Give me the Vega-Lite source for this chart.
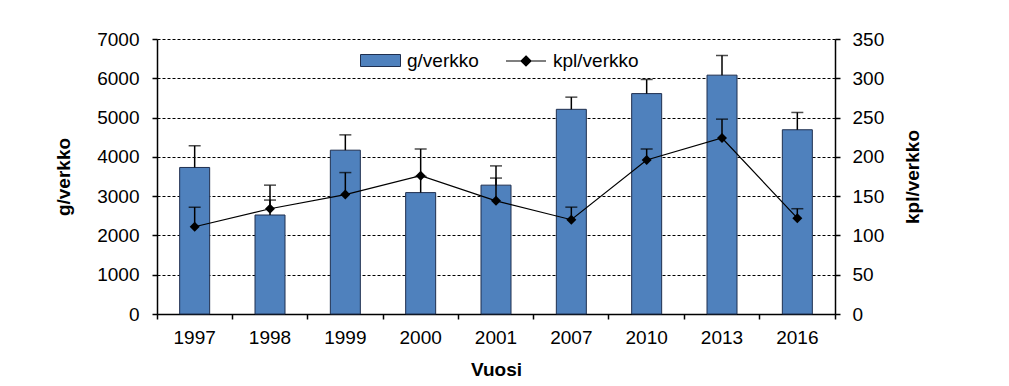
{
  "$schema": "https://vega.github.io/schema/vega-lite/v6.json",
  "width": 678,
  "height": 275,
  "autosize": {"type": "none"},
  "padding": {"left": 157, "top": 39, "right": 174, "bottom": 72},
  "background": "white",
  "config": {
    "view": {"stroke": null},
    "font": "Liberation Sans",
    "axis": {
      "labelFont": "Liberation Sans",
      "titleFont": "Liberation Sans",
      "labelFontSize": 19,
      "titleFontSize": 19,
      "titleFontWeight": "bold",
      "labelColor": "#000",
      "titleColor": "#000",
      "domainColor": "#000",
      "tickColor": "#000",
      "domainWidth": 1.5,
      "tickWidth": 1.5,
      "tickSize": 5
    },
    "axisLeft": {
      "values": [0, 1000, 2000, 3000, 4000, 5000, 6000, 7000],
      "format": "d", "grid": true, "gridDash": [3, 2], "gridColor": "#000", "gridWidth": 1, "gridOpacity": 1,
      "labelPadding": 13, "titleX": -94, "titleY": 137.5, "titleAngle": 270,
      "titleBaseline": "middle", "titleAlign": "center", "labelOverlap": false
    },
    "axisRight": {
      "values": [0, 50, 100, 150, 200, 250, 300, 350],
      "format": "d", "grid": false, "labelPadding": 12,
      "titleX": 77, "titleY": 137.5, "titleAngle": 270,
      "titleBaseline": "middle", "titleAlign": "center", "labelOverlap": false
    },
    "legend": {
      "labelFont": "Liberation Sans",
      "labelFontSize": 19,
      "labelColor": "#000",
      "padding": 0,
      "orient": "none",
      "labelOffset": 6
    }
  },
  "data": {
    "values": [
      {"year": "1997", "g": 3730, "gErr": 4280, "kpl": 111, "kplErr": 136},
      {"year": "1998", "g": 2520, "gErr": 3280, "kpl": 134, "kplErr": 145},
      {"year": "1999", "g": 4170, "gErr": 4560, "kpl": 152, "kplErr": 180},
      {"year": "2000", "g": 3090, "gErr": 3500, "kpl": 176, "kplErr": 210},
      {"year": "2001", "g": 3280, "gErr": 3770, "kpl": 144, "kplErr": 173},
      {"year": "2007", "g": 5210, "gErr": 5520, "kpl": 120, "kplErr": 136},
      {"year": "2010", "g": 5610, "gErr": 5970, "kpl": 196, "kplErr": 210},
      {"year": "2013", "g": 6080, "gErr": 6580, "kpl": 224, "kplErr": 248},
      {"year": "2016", "g": 4690, "gErr": 5130, "kpl": 122, "kplErr": 134}
    ]
  },
  "layer": [
    {
      "layer": [
        {
          "mark": {"type": "bar", "size": 30, "stroke": "#1F2F4F", "strokeWidth": 1},
          "encoding": {
            "x": {
              "field": "year", "type": "nominal", "sort": null,
              "scale": {"paddingInner": 0, "paddingOuter": 0},
              "axis": {
                "title": "Vuosi", "labelAngle": 0, "bandPosition": 1, "tickExtra": true,
                "labelPadding": 9, "titleY": 55, "titleBaseline": "middle", "grid": false
              }
            },
            "y": {
              "field": "g", "type": "quantitative",
              "scale": {"domain": [0, 7000]},
              "title": "g/verkko",
              "axis": {"orient": "left", "tickCount": 7}
            },
            "fill": {
              "datum": "g/verkko", "type": "nominal",
              "scale": {"range": ["#4F81BD"]},
              "legend": {
                "title": null, "legendX": 203, "legendY": 1,
                "symbolType": "M-1,-0.3H1V0.3H-1Z", "symbolSize": 1600,
                "symbolStrokeColor": "#1F2F4F", "symbolStrokeWidth": 1
              }
            }
          }
        },
        {
          "mark": {"type": "rule", "color": "#000", "strokeWidth": 1.5},
          "encoding": {
            "x": {"field": "year", "type": "nominal", "sort": null},
            "y": {"field": "g", "type": "quantitative", "title": "g/verkko", "axis": {"orient": "left", "tickCount": 7}},
            "y2": {"field": "gErr"}
          }
        },
        {
          "mark": {"type": "tick", "color": "#000", "size": 12, "thickness": 1.5},
          "encoding": {
            "x": {"field": "year", "type": "nominal", "sort": null},
            "y": {"field": "gErr", "type": "quantitative", "title": "g/verkko", "axis": {"orient": "left", "tickCount": 7}}
          }
        }
      ]
    },
    {
      "layer": [
        {
          "mark": {"type": "rule", "color": "#000", "strokeWidth": 1.5},
          "encoding": {
            "x": {"field": "year", "type": "nominal", "sort": null},
            "y": {
              "field": "kpl", "type": "quantitative",
              "scale": {"domain": [0, 350]},
              "title": "kpl/verkko",
              "axis": {"orient": "right", "tickCount": 7}
            },
            "y2": {"field": "kplErr"}
          }
        },
        {
          "mark": {"type": "tick", "color": "#000", "size": 12, "thickness": 1.5},
          "encoding": {
            "x": {"field": "year", "type": "nominal", "sort": null},
            "y": {"field": "kplErr", "type": "quantitative", "title": "kpl/verkko", "axis": {"orient": "right", "tickCount": 7}}
          }
        },
        {
          "mark": {"type": "line", "strokeWidth": 1.2},
          "encoding": {
            "x": {"field": "year", "type": "nominal", "sort": null},
            "y": {"field": "kpl", "type": "quantitative", "title": "kpl/verkko", "axis": {"orient": "right", "tickCount": 7}},
            "stroke": {
              "datum": "kpl/verkko", "type": "nominal",
              "scale": {"range": ["#000000"]},
              "legend": {
                "title": null, "legendX": 348, "legendY": 1,
                "symbolType": "M-1,0H1M0,-0.25L0.25,0L0,0.25L-0.25,0Z", "symbolSize": 1600,
                "symbolFillColor": "#000", "symbolStrokeColor": "#000", "symbolStrokeWidth": 1.2,
                "encode": {"symbols": {"update": {"fill": {"value": "#000"}, "opacity": {"value": 1}}}}
              }
            }
          }
        },
        {
          "mark": {"type": "point", "shape": "diamond", "filled": true, "color": "#000", "size": 100, "opacity": 1},
          "encoding": {
            "x": {"field": "year", "type": "nominal", "sort": null},
            "y": {"field": "kpl", "type": "quantitative", "title": "kpl/verkko", "axis": {"orient": "right", "tickCount": 7}}
          }
        }
      ]
    }
  ],
  "resolve": {"scale": {"y": "independent", "fill": "independent", "stroke": "independent"}}
}
